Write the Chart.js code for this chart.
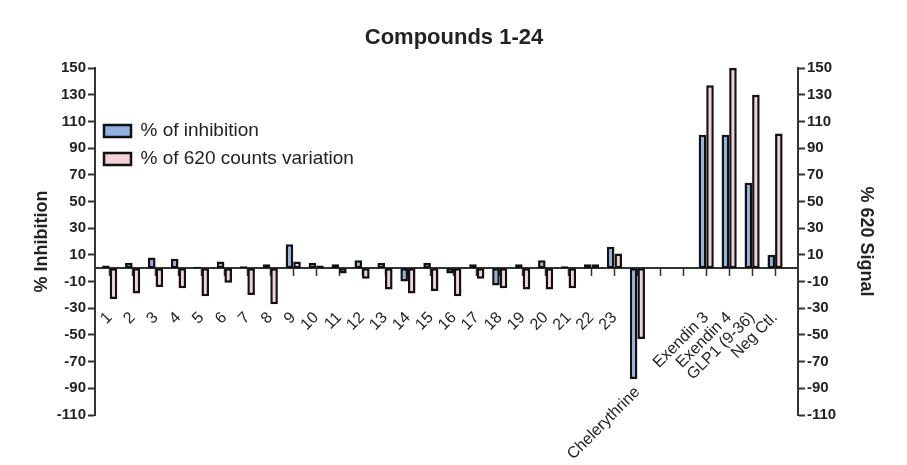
<!DOCTYPE html>
<html>
<head>
<meta charset="utf-8">
<title>Compounds 1-24</title>
<script src="https://cdn.jsdelivr.net/npm/chart.js@4.4.1/dist/chart.umd.min.js"></script>
<style>
    body { margin: 0; background: #fff; }
    #chart { display: block; }
</style>
</head>
<body>
<canvas id="chart" width="907" height="465"></canvas>
<script>
const categories = ['1', '2', '3', '4', '5', '6', '7', '8', '9', '10', '11', '12', '13', '14', '15', '16',
    '17', '18', '19', '20', '21', '22', '23', 'Chelerythrine', '', '', 'Exendin 3', 'Exendin 4', 'GLP1 (9-36)', 'Neg Ctl.'];

const inhibition = [2, 4, 8, 7, 1, 5, 1.5, 3, 18, 4, 3, 6, 4, -10, 4, -4, 3, -13, 3, 6, 1.5, 3, 16, -83,
    null, null, 100, 100, 64, 10];

const countsVariation = [-23, -19, -14, -15, -21, -11, -20, -27, 5, 2, -4, -8, -16, -19, -17, -21, -8, -15, -16, -16, -15, 3, 11, -53,
    null, null, 137, 150, 130, 101];

const yTickMin = -110;
const yTickMax = 150;
const yTickStep = 20;

// label that sits lower, under its long bar
const lowLabel = 'Chelerythrine';

Chart.defaults.font.family = "'Liberation Sans', Arial, sans-serif";
Chart.defaults.color = '#222';

function toPoints(values) {
    return values.map((v, i) => ({ x: i + 1, y: v }));
}

function categoryTicks(scale) {
    scale.ticks = categories.map((c, i) => ({ value: i + 1 }));
}

const xRange = { min: 0.36, max: 31 };

const xLabelTicks = {
    autoSkip: false,
    minRotation: 45,
    maxRotation: 45,
    padding: 33,
    color: '#222',
    font: { size: 16 }
};

function yAxis(position, title) {
    return {
        type: 'linear',
        position: position,
        min: yTickMin,
        max: yTickMax,
        border: { color: '#333', width: 2 },
        grid: { drawOnChartArea: false, tickLength: 7, tickWidth: 2, tickColor: '#333' },
        ticks: {
            stepSize: yTickStep,
            padding: 2,
            font: { size: 15, weight: 'bold' },
            color: '#222'
        },
        title: {
            display: true,
            text: title,
            font: { size: 18, weight: 'bold' },
            color: '#222',
            padding: { top: 4, bottom: 4 }
        },
        afterFit: function (scale) {
            scale.width = position === 'left' ? 68 : 83;
        }
    };
}

const ctx = document.getElementById('chart').getContext('2d');

const myChart = new Chart(ctx, {
    type: 'bar',
    data: {
        datasets: [{
            label: '% of inhibition',
            data: toPoints(inhibition),
            yAxisID: 'y',
            backgroundColor: '#8fb1e0',
            borderColor: '#111',
            borderWidth: 2.5,
            borderSkipped: false
        }, {
            label: '% of 620 counts variation',
            data: toPoints(countsVariation),
            yAxisID: 'y2',
            backgroundColor: '#f4d0d8',
            borderColor: '#111',
            borderWidth: 2.5,
            borderSkipped: false
        }]
    },
    options: {
        responsive: false,
        animation: false,
        layout: { padding: { left: 27, right: 26, top: 0, bottom: 50 } },
        datasets: {
            bar: { categoryPercentage: 0.66, barPercentage: 1.0 }
        },
        scales: {
            x: {
                type: 'linear',
                min: xRange.min,
                max: xRange.max,
                offset: false,
                position: { y: 0 },
                border: { color: '#333', width: 2 },
                grid: { offset: false, drawOnChartArea: false, tickLength: 7, tickWidth: 1.5, tickColor: '#333' },
                afterBuildTicks: categoryTicks,
                ticks: Object.assign({}, xLabelTicks, {
                    callback: function (value) {
                        let label = categories[value - 1];
                        return label === lowLabel ? '' : label;
                    }
                }),
                afterFit: function (scale) { scale.height = 0; }
            },
            x2: {
                type: 'linear',
                min: xRange.min,
                max: xRange.max,
                offset: false,
                position: { y: -50 },
                border: { display: false },
                grid: { offset: false, display: false },
                afterBuildTicks: function (scale) {
                    scale.ticks = [{ value: categories.indexOf(lowLabel) + 1 }];
                },
                ticks: Object.assign({}, xLabelTicks, {
                    padding: 40,
                    callback: function (value) { return categories[value - 1]; }
                }),
                afterFit: function (scale) { scale.height = 0; }
            },
            y: yAxis('left', '% Inhibition'),
            y2: yAxis('right', '% 620 Signal')
        },
        plugins: {
            title: {
                display: true,
                text: 'Compounds 1-24',
                color: '#222',
                font: { size: 22, weight: 'bold' },
                padding: { top: 25, bottom: 16.6 }
            },
            legend: {
                position: 'chartArea',
                align: 'start',
                title: { display: true, text: '', padding: { top: 98, bottom: 0 }, font: { size: 12 } },
                labels: {
                    boxWidth: 27,
                    boxHeight: 12,
                    padding: 9,
                    color: '#222',
                    font: { size: 19 }
                }
            },
            tooltip: { enabled: false }
        }
    }
});
</script>
</body>
</html>
